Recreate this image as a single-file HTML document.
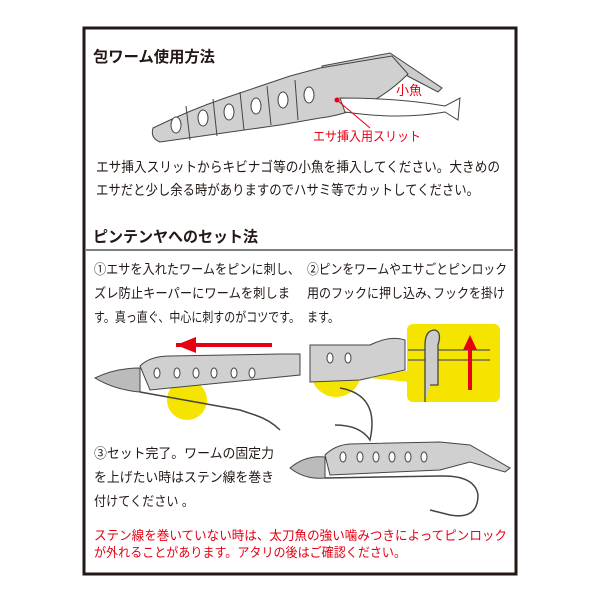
<!DOCTYPE html>
<html><head><meta charset="utf-8"><style>
body{margin:0;background:#fff;}
svg text{font-family:"Liberation Sans","Noto Sans CJK JP",sans-serif;}
</style></head><body>
<svg width="600" height="600" viewBox="0 0 600 600" xmlns="http://www.w3.org/2000/svg">
<rect x="0" y="0" width="600" height="600" fill="#fff"/>
<rect x="84" y="28" width="432" height="546" fill="none" stroke="#231815" stroke-width="3"/>
<text x="93" y="62" font-size="15.5" font-weight="bold" fill="#231815" textLength="122" lengthAdjust="spacingAndGlyphs">包ワーム使用方法</text>
<!-- top worm -->
<path d="M322,66 L390,53 L442,88 L438,92 L400,72 L385,80 Q370,115 330,110 Z" fill="#ccc" stroke="#444" stroke-width="1"/>
<path d="M320,68 L392,56 L408,74 Q370,112 320,118 L280,125 L160,142 Q150,138 153,128 Q190,110 225,98 L290,76 Z" fill="#d0d0d0" stroke="#444" stroke-width="1"/>
<path d="M340,98 Q400,98 445,106 L460,98 L458,120 L445,112 Q400,120 345,112 Z" fill="#fff" stroke="#444" stroke-width="1"/>
<g stroke="#444" fill="none" stroke-width="1">
<path d="M186,106 L190,140"/><path d="M213,99 L217,136"/><path d="M240,92 L244,130"/><path d="M267,86 L271,125"/><path d="M295,80 L298,120"/>
</g>
<g fill="#fff" stroke="#444" stroke-width="1">
<ellipse cx="176" cy="125" rx="5" ry="8"/><ellipse cx="203" cy="118" rx="5" ry="8"/><ellipse cx="229" cy="112" rx="5" ry="8"/><ellipse cx="256" cy="106" rx="5" ry="8"/><ellipse cx="283" cy="100" rx="5" ry="8"/><ellipse cx="309" cy="95" rx="5" ry="8"/>
</g>
<circle cx="337" cy="100" r="2.5" fill="#e60012"/>
<line x1="337" y1="100" x2="370" y2="128" stroke="#e60012" stroke-width="1"/>
<text x="396" y="95" font-size="13" fill="#e60012">小魚</text>
<text x="313" y="141" font-size="13" fill="#e60012" textLength="108" lengthAdjust="spacingAndGlyphs">エサ挿入用スリット</text>
<text x="96" y="172" font-size="14" fill="#231815" textLength="404" lengthAdjust="spacingAndGlyphs">エサ挿入スリットからキビナゴ等の小魚を挿入してください。大きめの</text>
<text x="96" y="195" font-size="14" fill="#231815" textLength="383" lengthAdjust="spacingAndGlyphs">エサだと少し余る時がありますのでハサミ等でカットしてください。</text>
<text x="93" y="242" font-size="15.5" font-weight="bold" fill="#231815" textLength="165" lengthAdjust="spacingAndGlyphs">ピンテンヤへのセット法</text>
<line x1="86" y1="250" x2="513" y2="250" stroke="#555" stroke-width="1.5"/>
<g font-size="13.5" fill="#231815" lengthAdjust="spacingAndGlyphs">
<text x="94" y="274" textLength="206" lengthAdjust="spacingAndGlyphs">①エサを入れたワームをピンに刺し、</text>
<text x="94" y="298" textLength="196" lengthAdjust="spacingAndGlyphs">ズレ防止キーパーにワームを刺しま</text>
<text x="94" y="322" textLength="206" lengthAdjust="spacingAndGlyphs">す。真っ直ぐ、中心に刺すのがコツです。</text>
<text x="307" y="274" textLength="200" lengthAdjust="spacingAndGlyphs">②ピンをワームやエサごとピンロック</text>
<text x="307" y="298" textLength="198" lengthAdjust="spacingAndGlyphs">用のフックに押し込み､フックを掛け</text>
<text x="307" y="322" textLength="32" lengthAdjust="spacingAndGlyphs">ます。</text>
</g>
<!-- step1 -->
<path d="M176,345 L272,345" stroke="#e60012" stroke-width="4"/>
<polygon points="176,345 196,337 196,353" fill="#e60012"/>
<circle cx="187" cy="400" r="20" fill="#f5e400"/>
<path d="M95,378 Q115,368 140,368 L140,392 Q115,390 95,378Z" fill="#bbb" stroke="#444"/>
<path d="M140,366 Q150,356 170,356 L280,354 L300,354 L300,375 L150,390 Z" fill="#d0d0d0" stroke="#444"/>
<g fill="#fff" stroke="#444"><ellipse cx="157" cy="373" rx="3" ry="5"/><ellipse cx="177" cy="373" rx="3" ry="5"/><ellipse cx="196" cy="373" rx="3" ry="5"/><ellipse cx="214" cy="373" rx="3" ry="5"/><ellipse cx="234" cy="373" rx="3" ry="5"/><ellipse cx="252" cy="373" rx="3" ry="5"/></g>
<path d="M140,392 L240,410 L255,415 Q270,420 280,430" fill="none" stroke="#444" stroke-width="1.5"/>
<!-- step2 -->
<circle cx="336" cy="372" r="25" fill="#f5e400"/>
<path d="M310,345 L370,345 Q390,335 405,340 L405,370 L360,380 L310,382 Z" fill="#d0d0d0" stroke="#444"/>
<g fill="#fff" stroke="#444"><ellipse cx="330" cy="358" rx="3" ry="5"/><ellipse cx="348" cy="358" rx="3" ry="5"/></g>
<path d="M340,388 Q380,395 370,440 Q360,425 335,425" fill="none" stroke="#444" stroke-width="1.5"/>
<polygon points="370,378 410,370 410,382" fill="#f5e400"/>
<rect x="407" y="324" width="93" height="78" rx="6" fill="#f5e400"/>
<path d="M408,350 L490,350 M408,360 L490,360" stroke="#555" stroke-width="1.2"/>
<path d="M425,402 L425,345 Q425,330 435,330 Q442,332 438,345 L438,385 L430,385" fill="#ccc" stroke="#444" stroke-width="1.3"/>
<path d="M470,390 L470,345" stroke="#e60012" stroke-width="4"/>
<polygon points="470,335 463,350 477,350" fill="#e60012"/>
<!-- step3 -->
<g font-size="13.5" fill="#231815">
<text x="94" y="458" textLength="180" lengthAdjust="spacingAndGlyphs">③セット完了。ワームの固定力</text>
<text x="94" y="482" textLength="180" lengthAdjust="spacingAndGlyphs">を上げたい時はステン線を巻き</text>
<text x="94" y="506" textLength="100" lengthAdjust="spacingAndGlyphs">付けてください 。</text>
</g>
<path d="M290,468 Q305,455 325,457 L325,478 Q305,480 290,468Z" fill="#bbb" stroke="#444"/>
<path d="M325,455 Q335,445 350,444 L440,442 L470,445 L510,468 L505,472 L470,462 L440,470 L330,475Z" fill="#d0d0d0" stroke="#444"/>
<g fill="#fff" stroke="#444"><ellipse cx="343" cy="457" rx="3" ry="5"/><ellipse cx="360" cy="457" rx="3" ry="5"/><ellipse cx="376" cy="457" rx="3" ry="5"/><ellipse cx="392" cy="457" rx="3" ry="5"/><ellipse cx="408" cy="457" rx="3" ry="5"/><ellipse cx="424" cy="457" rx="3" ry="5"/></g>
<path d="M325,478 L440,476 Q475,475 478,495 Q478,520 450,515 L430,510" fill="none" stroke="#444" stroke-width="1.5"/>
<g font-size="13" fill="#e60012">
<text x="94" y="540" textLength="413" lengthAdjust="spacingAndGlyphs">ステン線を巻いていない時は、太刀魚の強い噛みつきによってピンロック</text>
<text x="94" y="557" textLength="312" lengthAdjust="spacingAndGlyphs">が外れることがあります。アタリの後はご確認ください。</text>
</g>
</svg>
</body></html>
